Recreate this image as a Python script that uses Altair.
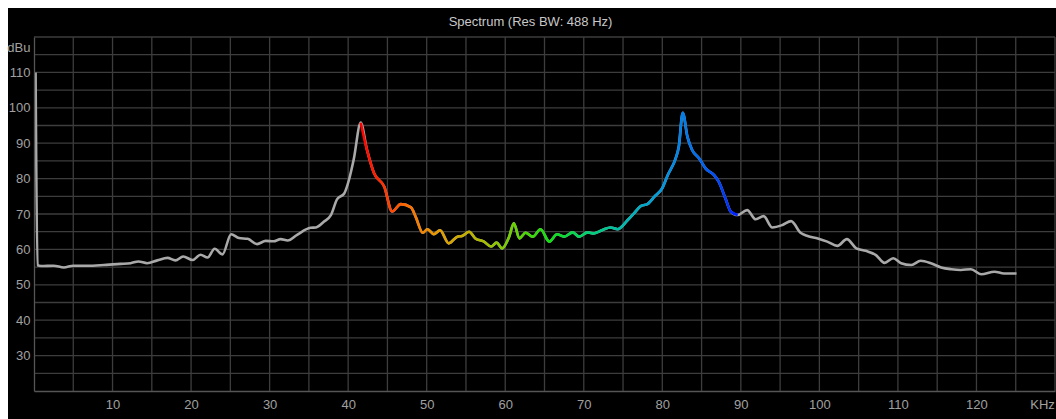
import altair as alt
import pandas as pd

# Spectrum trace: frequency (kHz) and level (dBu)
freq_khz = [
    0.2, 0.45, 0.9, 2.5, 3.8, 5.0, 6.8, 8.9, 11.0, 12.3, 13.3, 14.4, 15.7, 17.0,
    18.0, 19.0, 20.2, 21.2, 22.1, 23.0, 24.0, 25.1, 26.1, 27.2, 28.4, 29.5, 30.5,
    31.4, 32.3, 33.5, 35.2, 35.9, 36.9, 37.8, 38.6, 39.5, 40.1, 40.7, 41.6, 42.4,
    43.3, 44.6, 45.6, 46.7, 48.0, 48.6, 49.5, 50.1, 50.9, 51.7, 52.8, 53.9, 54.5,
    55.4, 56.2, 57.3, 58.2, 58.9, 59.6, 60.5, 61.1, 61.8, 62.6, 63.5, 64.5, 65.6,
    66.6, 67.5, 68.6, 69.4, 70.5, 71.3, 72.4, 73.4, 74.3, 75.6, 76.4, 77.3, 78.1,
    79.0, 80.0, 80.7, 81.7, 82.1, 82.6, 83.2, 83.8, 84.7, 85.5, 86.6, 87.2, 88.1,
    88.7, 89.6, 90.8, 91.9, 92.9, 94.0, 95.3, 96.4, 97.6, 98.5, 99.8, 101.0,
    102.3, 103.5, 104.7, 105.9, 107.2, 108.3, 109.4, 110.4, 111.7, 112.9, 114.2,
    115.5, 116.8, 118.0, 119.3, 120.6, 122.3, 123.5, 125.1,
]
level_dbu = [
    110.0, 55.5, 55.3, 55.4, 54.9, 55.4, 55.4, 55.6, 55.9, 56.1, 56.6, 56.1, 56.9,
    57.6, 56.9, 58.0, 57.0, 58.5, 57.7, 60.2, 58.6, 64.3, 63.2, 63.0, 61.5, 62.4,
    62.3, 62.9, 62.5, 64.1, 66.1, 66.2, 67.8, 69.7, 74.2, 75.8, 79.6, 85.3, 95.8,
    88.1, 81.5, 77.7, 70.7, 72.8, 71.9, 69.2, 64.7, 65.7, 64.3, 65.4, 61.7, 63.6,
    63.8, 65.0, 63.1, 62.2, 60.8, 61.9, 60.3, 63.6, 67.4, 63.1, 64.7, 63.6, 65.7,
    62.2, 64.3, 63.6, 64.8, 63.6, 64.8, 64.5, 65.5, 66.2, 65.7, 68.3, 70.2, 72.3,
    72.8, 74.9, 77.3, 81.0, 85.7, 89.0, 98.6, 91.8, 88.1, 85.7, 82.9, 81.0, 79.1,
    74.0, 70.7, 69.7, 71.1, 68.5, 69.4, 66.2, 66.9, 68.0, 64.7, 63.8, 63.1, 62.2,
    61.0, 62.9, 60.3, 59.6, 58.4, 56.2, 57.5, 56.1, 55.6, 56.8, 56.1, 54.9, 54.4,
    54.2, 54.4, 53.0, 53.7, 53.2, 53.2,
]

title_text = "Spectrum (Res BW: 488 Hz)"

# Highlighted band between the two carriers (kHz)
band_start = 41.6
band_end = 89.6

# Rainbow stops along the highlighted band (red -> blue)
band_colors = [
    "#ff0000", "#ff2800", "#ff6a00", "#e89a00", "#b8b400", "#70d000", "#10e010",
    "#00d070", "#00b8b0", "#0098e0", "#0068f0", "#0020ff",
]
band_offsets = [0.0, 0.05, 0.12, 0.2, 0.3, 0.4, 0.5, 0.6, 0.7, 0.8, 0.9, 1.0]

# Grid positions and labelled ticks
x_grid = list(range(5, 131, 5))
y_grid = list(range(25, 121, 5))
x_labels = list(range(10, 121, 10))
y_labels = list(range(30, 111, 10))

W, H = 1021, 354

df = pd.DataFrame({"f": freq_khz, "db": level_dbu})
xg = pd.DataFrame({"g": x_grid})
yg = pd.DataFrame({"g": y_grid})
one = pd.DataFrame({"a": [0]})

x_scale = alt.Scale(domain=[0, 130], nice=False, zero=False)
y_scale = alt.Scale(domain=[20, 120], nice=False, zero=False)

axis_style = dict(
    zindex=2,
    grid=False,
    ticks=False,
    labelOverlap=False,
    domainColor="#555555",
    domainWidth=1.3,
    labelColor="#a0a0a0",
    labelFont="Liberation Sans",
    labelFontSize=13,
    titleColor="#a0a0a0",
    titleFont="Liberation Sans",
    titleFontSize=13,
    titleFontWeight="normal",
)

x_axis = alt.Axis(
    values=x_labels,
    labelBaseline="top",
    labelPadding=7,
    title="KHz",
    titleX=1008,
    titleY=7,
    titleAlign="center",
    titleBaseline="top",
    **axis_style,
)
y_axis = alt.Axis(
    values=y_labels,
    labelPadding=4,
    title="dBu",
    titleAngle=0,
    titleX=-4,
    titleY=10,
    titleAlign="right",
    titleBaseline="middle",
    **axis_style,
)

gradient = alt.Gradient(
    gradient="linear",
    stops=[alt.GradientStop(color=c, offset=o) for c, o in zip(band_colors, band_offsets)],
    x1=0, x2=1, y1=0, y2=0,
)

# Black instrument panel behind the plot, title and axis labels
panel = alt.Chart(one).mark_rect(color="#000000").encode(
    x=alt.value(-26), x2=alt.value(W + 2), y=alt.value(-29), y2=alt.value(H + 28)
)

heading = alt.Chart(one).mark_text(
    text=title_text,
    color="#c8c8c8",
    font="Liberation Sans",
    fontSize=13,
    align="center",
    baseline="middle",
).encode(x=alt.value(W / 2 - 14), y=alt.value(-15))

grid_color = "#3d3d3d"
vgrid = alt.Chart(xg).mark_rule(color=grid_color, strokeWidth=1.3).encode(
    x=alt.X("g:Q", scale=x_scale, axis=x_axis)
)
hgrid = alt.Chart(yg).mark_rule(color=grid_color, strokeWidth=1.3).encode(
    y=alt.Y("g:Q", scale=y_scale, axis=y_axis)
)

trace = alt.Chart(df).mark_line(
    color="#a9a9a9", strokeWidth=2.6, interpolate="monotone"
).encode(
    x=alt.X("f:Q", scale=x_scale, axis=x_axis),
    y=alt.Y("db:Q", scale=y_scale, axis=y_axis),
)

band = alt.Chart(df).transform_filter(
    (alt.datum.f >= band_start) & (alt.datum.f <= band_end)
).mark_line(
    color=gradient, strokeWidth=2.6, interpolate="monotone"
).encode(
    x=alt.X("f:Q", scale=x_scale, axis=x_axis),
    y=alt.Y("db:Q", scale=y_scale, axis=y_axis),
)

chart = (
    alt.layer(panel, heading, vgrid, hgrid, trace, band)
    .properties(
        width=W,
        height=H,
        autosize=alt.AutoSizeParams(type="none"),
        padding={"left": 34, "top": 37, "right": 1, "bottom": 28},
        background="#ffffff",
    )
    .configure_view(stroke=None)
)

chart.save("out.html", embed_options={"renderer": "svg", "actions": False})
